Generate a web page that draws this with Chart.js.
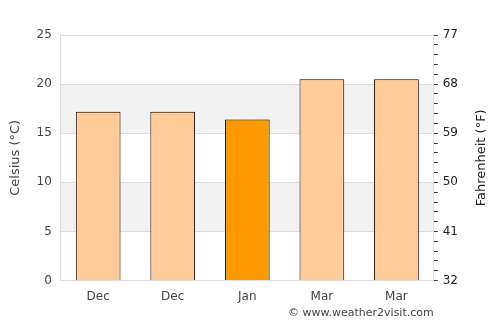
<!DOCTYPE html>
<html>
<head>
<meta charset="utf-8">
<script src="https://cdn.jsdelivr.net/npm/chart.js@4/dist/chart.umd.min.js"></script>
<style>
  html, body { margin: 0; padding: 0; background: #fff; }
  #wrap { width: 500px; height: 325px; }
</style>
</head>
<body>
<div id="wrap"><canvas id="myChart" width="500" height="325"></canvas></div>
<script>
// data
const months = ["Dec", "Dec", "Jan", "Mar", "Mar"];
const celsius = [17.2, 17.2, 16.4, 20.5, 20.5];
const highlighted = [false, false, true, false, false];
const celsiusTicks = [0, 5, 10, 15, 20, 25];
const fahrenheitTicks = [32, 41, 50, 59, 68, 77];

const barColors = highlighted.map(h => h ? '#ff9900' : '#ffcc99');

// grey bands between 5-10 and 15-20
const bandPlugin = {
    id: 'bands',
    beforeDraw(chart) {
        const {ctx, chartArea} = chart;
        const y = chart.scales.y;
        ctx.save();
        ctx.fillStyle = '#f2f2f2';
        [[5, 10], [15, 20]].forEach(([a, b]) => {
            const top = y.getPixelForValue(b);
            const bot = y.getPixelForValue(a);
            ctx.fillRect(chartArea.left, top, chartArea.right - chartArea.left, bot - top);
        });
        ctx.restore();
    }
};

// footer text + right axis title (reads bottom to top like the left one)
const extrasPlugin = {
    id: 'extras',
    afterDraw(chart) {
        const {ctx, chartArea} = chart;
        ctx.save();
        ctx.font = '11px "DejaVu Sans"';
        ctx.fillStyle = '#444';
        ctx.textAlign = 'right';
        ctx.textBaseline = 'middle';
        ctx.fillText('\u00a9 www.weather2visit.com', chartArea.right, 313);

        ctx.translate(482, (chartArea.top + chartArea.bottom) / 2);
        ctx.rotate(-Math.PI / 2);
        ctx.font = '13px "DejaVu Sans"';
        ctx.fillStyle = '#222';
        ctx.textAlign = 'center';
        ctx.fillText('Fahrenheit (°F)', 0, 0);
        ctx.restore();
    }
};

const ctx = document.getElementById('myChart').getContext('2d');
new Chart(ctx, {
    type: 'bar',
    data: {
        labels: months,
        datasets: [{
            data: celsius,
            backgroundColor: barColors,
            borderColor: '#000',
            borderWidth: 1,
            barPercentage: 0.6,
            categoryPercentage: 1.0,
            yAxisID: 'y'
        }]
    },
    options: {
        responsive: false,
        animation: false,
        events: [],
        layout: {
            padding: { top: 35, right: 37, bottom: 20, left: 8 }
        },
        plugins: {
            legend: { display: false },
            tooltip: { enabled: false }
        },
        scales: {
            x: {
                grid: { display: false },
                border: { color: '#dddddd' },
                ticks: {
                    color: '#444',
                    font: { family: 'DejaVu Sans', size: 12 },
                    padding: 1
                }
            },
            y: {
                position: 'left',
                min: 0,
                max: 25,
                afterBuildTicks: axis => { axis.ticks = celsiusTicks.map(v => ({value: v})); },
                grid: { color: '#dddddd', drawTicks: false },
                border: { color: '#dddddd' },
                ticks: {
                    color: '#444',
                    font: { family: 'DejaVu Sans', size: 12 },
                    padding: 9
                },
                title: {
                    display: true,
                    text: 'Celsius (°C)',
                    color: '#444',
                    font: { family: 'DejaVu Sans', size: 13 },
                    padding: { top: 0, bottom: 4 }
                }
            },
            y2: {
                position: 'right',
                min: 0,
                max: 25,
                afterBuildTicks: axis => {
                    const t = [];
                    for (let c = 0; c <= 25; c++) t.push({value: c});
                    axis.ticks = t;
                },
                grid: {
                    drawOnChartArea: false,
                    color: '#333',
                    tickLength: 4
                },
                border: { color: '#dddddd' },
                ticks: {
                    autoSkip: false,
                    color: '#222',
                    font: { family: 'DejaVu Sans', size: 12 },
                    padding: 5,
                    callback: function (value) {
                        if (value % 5 !== 0) return '';
                        return String(fahrenheitTicks[value / 5]);
                    }
                }
            }
        }
    },
    plugins: [bandPlugin, extrasPlugin]
});
</script>
</body>
</html>
